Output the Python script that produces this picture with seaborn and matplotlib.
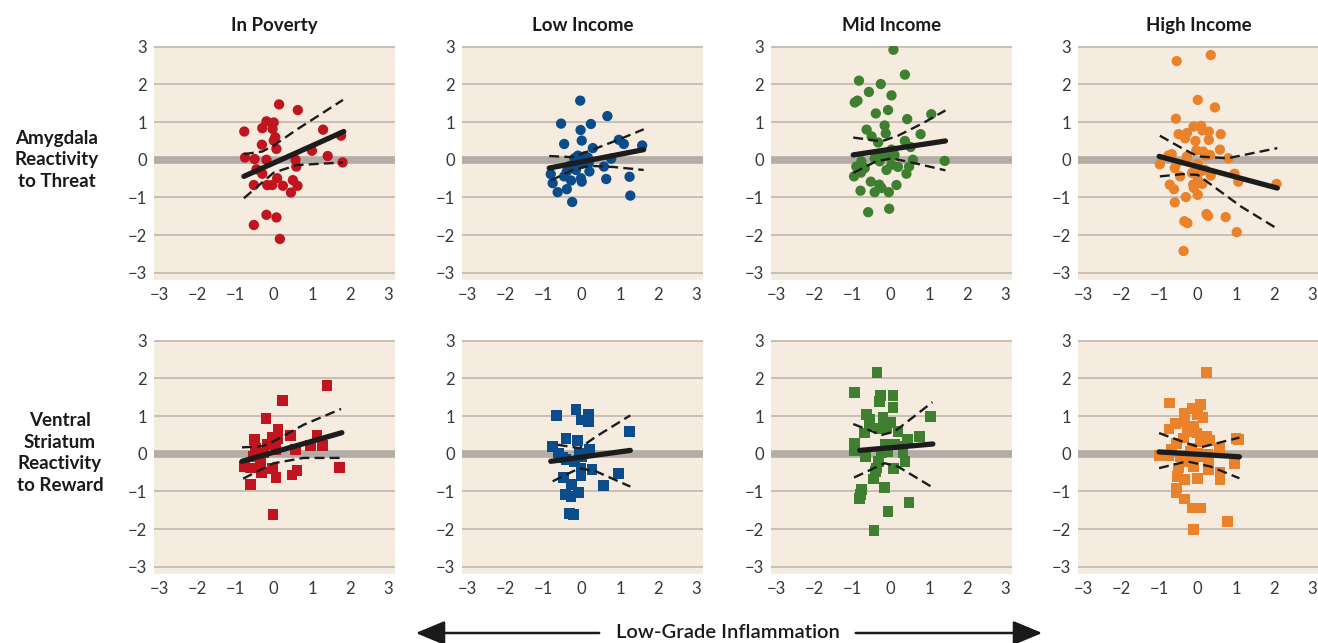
import numpy as np
import pandas as pd
import matplotlib
matplotlib.use("Agg")
import matplotlib.pyplot as plt
import seaborn as sns

# column titles, row labels, colours
incomes = ["In Poverty", "Low Income", "Mid Income", "High Income"]
rows = ["Amygdala\nReactivity\nto Threat", "Ventral\nStriatum\nReactivity\nto Reward"]
colors = ["#c0141e", "#0a4c8c", "#3f8030", "#e9822a"]

# ---- row 1: amygdala reactivity to threat (circles) ----
pov_threat_x = [-0.77, -0.75, -0.5, -0.45, -0.52, -0.52, -0.3, -0.31, -0.3, -0.19, -0.19, -0.19,
                -0.17, -0.04, 0.0, -0.03, 0.04, 0.0, 0.07, 0.09, 0.07, 0.14, 0.16, 0.24, 0.45,
                0.5, 0.57, 0.59, 0.62, 0.63, 1.0, 1.29, 1.41, 1.76, 1.8]
pov_threat_y = [0.75, 0.06, 0.02, -0.25, -0.67, -1.73, 0.84, 0.4, -0.37, 1.02, 0.0, -1.46,
                -0.67, -0.67, 0.99, 0.82, 0.6, 0.51, 0.29, -0.49, -1.53, 1.47, -2.1, -0.69, -0.87,
                -0.54, 0.0, -0.18, -0.69, 1.32, 0.24, 0.8, 0.1, 0.64, -0.07]

low_threat_x = [-0.04, -0.54, 0.67, 0.24, -0.03, 0.0, -0.46, 0.29, 0.97, 1.1, 1.58, 0.77, -0.1,
                -0.19, -0.06, 0.16, 0.18, -0.31, -0.15, -0.39, -0.81, -0.46, -0.28, -0.76, -0.02,
                0.0, 0.2, 0.58, 0.64, 1.25, -0.39, -0.63, -0.25, 1.27, 0.03, 0.07]
low_threat_y = [1.57, 0.96, 1.16, 0.95, 0.79, 0.51, 0.42, 0.31, 0.53, 0.42, 0.38, 0.03, 0.11,
                0.04, -0.03, 0.06, -0.09, -0.16, -0.27, -0.31, -0.38, -0.44, -0.55, -0.62, -0.49,
                -0.58, -0.31, -0.18, -0.51, -0.45, -0.78, -0.86, -1.12, -0.95, -0.09, 0.09]

mid_threat_x = [0.07, 0.37, -0.83, -0.26, -0.57, 0.02, -0.94, -0.87, -0.07, -0.39, 0.43, 1.06,
                -0.16, -0.63, -0.13, 0.78, -0.5, -0.33, 0.37, 0.52, 0.02, 0.1, -0.24, -0.42, -0.07,
                -0.29, 0.58, 1.41, -0.77, -0.9, -0.68, -0.96, -0.78, 0.02, 0.19, -0.11, 0.48, 0.41,
                -0.52, 0.15, -0.3, -0.24, -0.42, -0.79, -0.05, -0.04, -0.59]
mid_threat_y = [2.92, 2.26, 2.1, 2.01, 1.8, 1.71, 1.52, 1.57, 1.32, 1.23, 1.08, 1.21,
                0.91, 0.8, 0.7, 0.68, 0.62, 0.46, 0.5, 0.34, 0.27, 0.13, 0.11, 0.04, 0.09,
                -0.04, 0.0, -0.03, -0.04, -0.18, -0.22, -0.44, -0.34, -0.13, -0.19, -0.27, -0.18, -0.37,
                -0.58, -0.67, -0.66, -0.75, -0.86, -0.82, -0.86, -1.3, -1.39]

high_threat_x = [0.34, -0.55, 0.0, 0.45, -0.57, -0.11, 0.09, 0.29, 0.12, -0.5, -0.33, -0.28, 0.6,
                 0.29, -0.06, 0.58, -0.04, 0.14, 0.32, 0.2, -0.28, -0.68, -0.77, 0.8, -0.99, -0.55,
                 -0.3, -0.6, 0.0, 0.07, -0.15, -0.46, 0.2, 0.34, 0.0, -0.12, 0.12, 0.96, 1.06, 2.06,
                 -0.73, -0.62, -0.31, 0.0, -0.6, 0.23, 0.27, 0.73, -0.35, -0.27, 1.02, -0.37, -0.1]
high_threat_y = [2.78, 2.62, 1.59, 1.39, 1.09, 0.88, 0.9, 0.75, 0.78, 0.68, 0.57, 0.71, 0.68,
                 0.53, 0.5, 0.27, 0.25, 0.22, 0.13, 0.11, 0.09, 0.15, 0.11, 0.04, -0.12, -0.09,
                 0.0, -0.22, -0.12, -0.31, -0.35, -0.44, -0.27, -0.42, -0.53, -0.66, -0.64, -0.37, -0.58, -0.64,
                 -0.66, -0.78, -0.99, -0.93, -1.13, -1.44, -1.49, -1.52, -1.63, -1.68, -1.92, -2.42, -0.75]

# ---- row 2: ventral striatum reactivity to reward (squares) ----
pov_reward_x = [1.39, 0.22, -0.2, 0.11, -0.5, -0.03, 0.09, 0.43, 1.13, 0.97, 1.27, -0.17, -0.48,
                0.06, 0.57, -0.26, -0.52, -0.35, -0.77, -0.61, -0.32, -0.04, 0.06, 0.48, 0.61, 1.72,
                -0.61, -0.02, -0.42]
pov_reward_y = [1.81, 1.41, 0.93, 0.66, 0.37, 0.43, 0.41, 0.48, 0.5, 0.22, 0.22, 0.24, 0.15,
                0.11, 0.11, 0.02, -0.07, -0.2, -0.33, -0.38, -0.49, -0.4, -0.63, -0.56, -0.44, -0.36,
                -0.82, -1.61, -0.38]

low_reward_x = [-0.15, -0.65, 0.18, -0.02, 0.18, 1.25, -0.41, -0.12, -0.76, 0.2, -0.61, -0.06,
                -0.5, -0.41, -0.19, 0.01, -0.02, 0.27, 0.96, -0.48, -0.02, 0.57, -0.26, -0.43, -0.28,
                -0.08, -0.32, -0.21]
low_reward_y = [1.17, 1.02, 1.04, 0.9, 0.86, 0.59, 0.4, 0.35, 0.19, 0.13, 0.02, 0.02,
                -0.1, -0.16, -0.2, -0.07, -0.4, -0.41, -0.53, -0.62, -0.58, -0.85, -0.82, -1.09, -1.13,
                -1.03, -1.58, -1.62]

mid_reward_x = [-0.36, -0.94, -0.26, 0.06, -0.29, 0.06, 1.04, -0.63, -0.2, -0.55, 0.0, -0.55, -0.29,
                -0.11, 0.19, -0.68, 0.76, 0.43, -0.94, -0.94, -0.14, 0.1, 0.32, -0.07, -0.24, 0.32,
                -0.65, 0.37, -0.31, -0.37, 0.08, -0.39, -0.46, -0.16, -0.77, -0.79, -0.81, 0.48, -0.07,
                -0.44]
mid_reward_y = [2.16, 1.63, 1.54, 1.55, 1.39, 1.23, 0.99, 1.05, 0.97, 0.92, 0.83, 0.77, 0.68,
                0.7, 0.59, 0.55, 0.46, 0.39, 0.28, 0.08, 0.24, 0.24, 0.19, 0.06, 0.02, 0.02,
                -0.07, -0.2, -0.2, -0.38, -0.4, -0.47, -0.67, -0.89, -0.94, -1.09, -1.19, -1.29, -1.53,
                -2.04]

high_reward_x = [0.23, -0.73, -0.15, 0.07, -0.35, 0.0, 0.14, -0.35, -0.58, -0.11, -0.75, -0.28, -0.02,
                 0.23, 0.32, 1.0, 1.06, -0.37, -0.55, 0.07, -0.15, 0.56, -0.68, -0.99, -0.77, -0.46,
                 -0.12, 0.25, 0.29, -0.33, 0.96, -0.11, -0.5, 0.29, 0.58, -0.53, -0.35, 0.0, 0.58,
                 -0.55, -0.57, -0.35, -0.15, 0.07, 0.78, -0.11, 0.0, 0.16, -0.19]
high_reward_y = [2.16, 1.35, 1.21, 1.3, 1.08, 1.04, 0.96, 0.86, 0.81, 0.73, 0.66, 0.58, 0.55,
                 0.46, 0.35, 0.4, 0.37, 0.42, 0.28, 0.31, 0.15, 0.15, 0.13, -0.04, -0.04, -0.07,
                 -0.1, -0.01, -0.16, -0.2, -0.27, -0.34, -0.38, -0.42, -0.49, -0.6, -0.69, -0.66, -0.69,
                 -0.91, -1.04, -1.2, -1.44, -1.44, -1.8, -2.0, 0.02, -0.07, 0.06]

# ---- fitted lines and confidence bounds ----
pov_threat_fit = ([-0.78, 1.83], [-0.44, 0.75])
pov_threat_hi = ([-0.78, -0.3, 0.0, 0.6, 1.81], [0.15, 0.22, 0.38, 0.8, 1.59])
pov_threat_lo = ([-0.78, -0.3, 0.0, 0.6, 1.81], [-1.02, -0.6, -0.34, -0.14, -0.07])

low_threat_fit = ([-0.85, 1.62], [-0.22, 0.27])
low_threat_hi = ([-0.85, -0.24, 0.29, 1.0, 1.62], [0.1, 0.07, 0.27, 0.55, 0.81])
low_threat_lo = ([-0.81, -0.24, 0.2, 0.82, 1.62], [-0.55, -0.27, -0.16, -0.19, -0.27])

mid_threat_fit = ([-0.98, 1.43], [0.13, 0.5])
mid_threat_hi = ([-0.98, -0.24, 0.19, 0.8, 1.43], [0.59, 0.49, 0.64, 0.95, 1.31])
mid_threat_lo = ([-0.98, -0.4, 0.02, 0.63, 1.43], [-0.35, -0.05, 0.04, -0.09, -0.28])

high_threat_fit = ([-1.01, 2.08], [0.09, -0.75])
high_threat_hi = ([-0.99, -0.4, 0.0, 0.78, 2.08], [0.64, 0.3, 0.09, 0.04, 0.31])
high_threat_lo = ([-0.99, -0.4, 0.0, 1.13, 2.08], [-0.44, -0.38, -0.4, -1.24, -1.83])

pov_reward_fit = ([-0.83, 1.78], [-0.2, 0.56])
pov_reward_hi = ([-0.83, -0.3, 0.0, 0.78, 1.76], [0.17, 0.2, 0.33, 0.77, 1.19])
pov_reward_lo = ([-0.8, -0.3, 0.0, 0.78, 1.76], [-0.66, -0.4, -0.25, -0.11, -0.11])

low_reward_fit = ([-0.81, 1.27], [-0.2, 0.09])
low_reward_hi = ([-0.63, -0.06, 0.38, 1.27], [0.24, 0.15, 0.46, 1.02])
low_reward_lo = ([-0.76, -0.06, 0.38, 1.27], [-0.73, -0.38, -0.47, -0.87])

mid_reward_fit = ([-0.81, 1.1], [0.09, 0.26])
mid_reward_hi = ([-0.98, -0.24, 0.1, 1.09], [0.79, 0.5, 0.59, 1.37])
mid_reward_lo = ([-0.96, -0.16, 0.19, 1.09], [-0.63, -0.25, -0.34, -0.89])

high_reward_fit = ([-1.01, 1.09], [0.05, -0.08])
high_reward_hi = ([-1.01, -0.28, 0.07, 1.09], [0.55, 0.28, 0.17, 0.43])
high_reward_lo = ([-1.01, -0.28, 0.34, 1.09], [-0.38, -0.2, -0.34, -0.65])

points = [
    [(pov_threat_x, pov_threat_y), (low_threat_x, low_threat_y),
     (mid_threat_x, mid_threat_y), (high_threat_x, high_threat_y)],
    [(pov_reward_x, pov_reward_y), (low_reward_x, low_reward_y),
     (mid_reward_x, mid_reward_y), (high_reward_x, high_reward_y)],
]
fits = [
    [(pov_threat_fit, pov_threat_hi, pov_threat_lo), (low_threat_fit, low_threat_hi, low_threat_lo),
     (mid_threat_fit, mid_threat_hi, mid_threat_lo), (high_threat_fit, high_threat_hi, high_threat_lo)],
    [(pov_reward_fit, pov_reward_hi, pov_reward_lo), (low_reward_fit, low_reward_hi, low_reward_lo),
     (mid_reward_fit, mid_reward_hi, mid_reward_lo), (high_reward_fit, high_reward_hi, high_reward_lo)],
]
ticks = [-3, -2, -1, 0, 1, 2, 3]

sns.set_style("white")
plt.rcParams["font.family"] = ["Lato", "DejaVu Sans"]

W, H = 1318, 643
fig = plt.figure(figsize=(W / 100, H / 100), dpi=100)

col_left = [154, 462, 771, 1078]
row_top = [46, 340]
aw, ah = 241, 234

for r in range(2):
    for c in range(4):
        ax = fig.add_axes([col_left[c] / W, (H - row_top[r] - ah) / H, aw / W, ah / H])
        ax.set_facecolor("#f5ecdf")
        for t in ticks:
            if t != 0:
                ax.axhline(t, color="#bfb8b0", lw=1.2, zorder=1)
        ax.axhline(0, color="#b4ada7", lw=5.5, zorder=1)

        px, py = points[r][c]
        df = pd.DataFrame({"x": px, "y": py})
        sns.scatterplot(data=df, x="x", y="y", ax=ax, color=colors[c],
                        marker="o" if r == 0 else "s", s=55 if r == 0 else 60,
                        edgecolor="none", linewidth=0, zorder=3)

        fit, hi, lo = fits[r][c]
        sns.lineplot(x=fit[0], y=fit[1], ax=ax, color="#1c1c1c", lw=3.8,
                     solid_capstyle="round", zorder=5)
        for band in (hi, lo):
            sns.lineplot(x=band[0], y=band[1], ax=ax, color="#1c1c1c", lw=1.7,
                         linestyle=(0, (4.2, 2.2)), zorder=5)

        ax.set_xlim(-3.13, 3.17)
        ax.set_ylim(-3.19, 3.02)
        ax.set_xticks(ticks)
        ax.set_yticks(ticks)
        ax.tick_params(length=0, labelsize=12, colors="#383838", pad=5)
        ax.set_xlabel("")
        ax.set_ylabel("")
        for sp in ax.spines.values():
            sp.set_visible(False)
        ax.grid(False)

        if r == 0:
            ax.set_title(incomes[c], fontsize=13.5, fontweight="bold", color="#1a1a1a", pad=11)

# row labels
fig.text(57 / W, 1 - 160 / H, rows[0], ha="center", va="center", fontsize=13.5,
         fontweight="bold", color="#1a1a1a", linespacing=1.35)
fig.text(60 / W, 1 - 453 / H, rows[1], ha="center", va="center", fontsize=13.5,
         fontweight="bold", color="#1a1a1a", linespacing=1.35)

# bottom arrow with label
fig.text(728 / W, 10 / H, "Low-Grade Inflammation", ha="center", va="center",
         fontsize=14.5, fontweight="semibold", color="#1a1a1a")
arrow_kw = dict(arrowstyle="-|>,head_length=1.2,head_width=0.5", color="#1a1a1a", lw=1.8)
fig.add_artist(matplotlib.patches.FancyArrowPatch((602 / W, 10 / H), (413 / W, 10 / H),
               transform=fig.transFigure, mutation_scale=15, **arrow_kw))
fig.add_artist(matplotlib.patches.FancyArrowPatch((853 / W, 10 / H), (1045 / W, 10 / H),
               transform=fig.transFigure, mutation_scale=15, **arrow_kw))

fig.savefig("out.png", dpi=100)
